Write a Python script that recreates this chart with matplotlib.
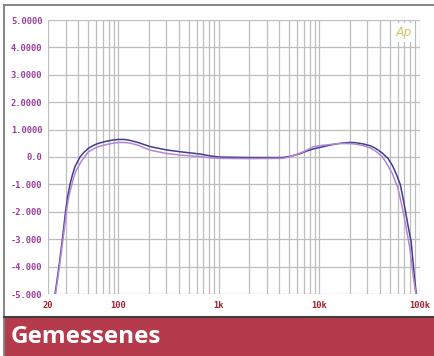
import matplotlib
matplotlib.use("Agg")
import matplotlib.pyplot as plt
from matplotlib.lines import Line2D
from matplotlib.patches import Rectangle
from matplotlib.ticker import FixedLocator, NullFormatter, NullLocator

# ---- data ----
freq_blue = [23.5, 25.7, 27.8, 30.0, 31.5, 33.1, 35, 37.1, 41.6, 45, 50.5, 57, 63.6, 75, 88.5,
             100, 115, 130, 160, 207, 300, 413, 650, 820, 1000, 2000, 4300, 5200, 6400, 7500,
             8800, 11000, 13000, 16000, 20000, 23000, 27000, 32000, 36000, 42000, 48000,
             53000, 56800, 60000, 63600, 67000, 71300, 76000, 81700, 87600, 91800]
level_blue = [-5.0, -4.0, -3.0, -1.95, -1.4, -1.0, -0.65, -0.35, 0.0, 0.15, 0.32, 0.43, 0.5, 0.57, 0.62,
              0.64, 0.64, 0.61, 0.52, 0.38, 0.26, 0.19, 0.11, 0.04, 0.0, -0.02, -0.02, 0.03, 0.12, 0.22,
              0.30, 0.38, 0.44, 0.50, 0.53, 0.52, 0.48, 0.41, 0.32, 0.15, -0.05,
              -0.3, -0.54, -0.75, -1.0, -1.4, -1.93, -2.5, -3.1, -4.3, -5.0]

freq_purple = [23.8, 26.0, 28.2, 30.5, 32, 34, 36, 38, 43, 46, 50.5, 57, 63.6, 75, 88.5,
               100, 115, 130, 160, 207, 300, 413, 650, 820, 1000, 2000, 4300, 5000, 6000, 7000,
               8800, 11000, 13000, 16000, 20000, 23000, 27000, 32000, 36000, 42000, 46000,
               53000, 57000, 60000, 64000, 68000, 73000, 79000, 86000, 91000]
level_purple = [-5.0, -4.0, -3.0, -2.0, -1.5, -1.1, -0.75, -0.5, -0.15, 0.0, 0.19, 0.30, 0.38, 0.45, 0.50,
                0.53, 0.53, 0.51, 0.42, 0.25, 0.13, 0.07, 0.02, -0.03, -0.05, -0.06, -0.05, 0.0, 0.10, 0.20,
                0.38, 0.43, 0.46, 0.49, 0.49, 0.47, 0.42, 0.33, 0.22, 0.02, -0.2,
                -0.6, -0.9, -1.1, -1.55, -2.0, -2.6, -3.3, -4.4, -5.0]

y_ticks = [5, 4, 3, 2, 1, 0, -1, -2, -3, -4, -5]
y_labels = ["5.0000", "4.0000", "3.0000", "2.0000", "1.0000", "0.0",
            "-1.000", "-2.000", "-3.000", "-4.000", "-5.000"]
x_ticks = [20, 100, 1000, 10000, 100000]
x_labels = ["20", "100", "1k", "10k", "100k"]
banner_text = "Gemessenes"

# ---- figure ----
W, H = 434, 356
fig = plt.figure(figsize=(W / 100, H / 100), dpi=100)
fig.patch.set_facecolor("white")

left, right, top, bottom = 48, 420, 20, 294
ax = fig.add_axes([left / W, 1 - bottom / H, (right - left) / W, (bottom - top) / H])
ax.set_xscale("log")
ax.set_xlim(20, 100000)
ax.set_ylim(-5, 5)

grid_col = "#bdbdbd"
vlines = [m * 10 ** e for e in range(1, 5) for m in range(1, 10)]
vlines = [v for v in vlines if 20 <= v <= 100000] + [100000]
for v in vlines:
    ax.axvline(v, color=grid_col, lw=0.9, zorder=1)
for yv in y_ticks:
    ax.axhline(yv, color=grid_col, lw=0.9, zorder=1)
for s in ax.spines.values():
    s.set_visible(False)

ax.plot(freq_blue, level_blue, color="#3e3e92", lw=1.1, zorder=3, clip_on=True)
ax.plot(freq_purple, level_purple, color="#b486d2", lw=1.1, zorder=3, clip_on=True)

ax.xaxis.set_major_locator(FixedLocator(x_ticks))
ax.xaxis.set_minor_locator(NullLocator())
ax.xaxis.set_minor_formatter(NullFormatter())
ax.set_xticklabels(x_labels)
ax.set_yticks(y_ticks)
ax.set_yticklabels(y_labels)
ax.tick_params(axis="both", length=0)
ax.tick_params(axis="y", pad=4)
ax.tick_params(axis="x", pad=5)
for lab in ax.get_yticklabels():
    lab.set_fontfamily("DejaVu Sans Mono")
    lab.set_fontweight("bold")
    lab.set_fontsize(6.3)
    lab.set_color("#9a3c9c")
for lab in ax.get_xticklabels():
    lab.set_fontfamily("DejaVu Sans Mono")
    lab.set_fontweight("bold")
    lab.set_fontsize(6.3)
    lab.set_color("#a8202e")

# Ap logo
ax.text(0.957, 0.955, "Ap", transform=ax.transAxes, ha="center", va="center",
        fontsize=9, style="italic", color="#d6c46a", zorder=5,
        bbox=dict(boxstyle="square,pad=0.25", fc="white", ec="none"))

# frame lines
fig.add_artist(Line2D([4 / W, 1], [1 - 4.5 / H, 1 - 4.5 / H], color="#858585", lw=1.4))
fig.add_artist(Line2D([3.5 / W, 3.5 / W], [0, 1 - 4.5 / H], color="#858585", lw=1.4))

# banner
fig.add_artist(Rectangle((4 / W, 0), 1 - 4 / W, (H - 317) / H, transform=fig.transFigure,
                         facecolor="#b53a4b", edgecolor="none"))
fig.add_artist(Line2D([4 / W, 1], [1 - 316.5 / H, 1 - 316.5 / H], color="#404040", lw=1.5))
fig.text(11 / W, 1 - 337 / H, banner_text, fontsize=17.5, fontweight="bold",
         family="Open Sans", color="white", va="center", ha="left")

fig.savefig("out.png", dpi=100)
